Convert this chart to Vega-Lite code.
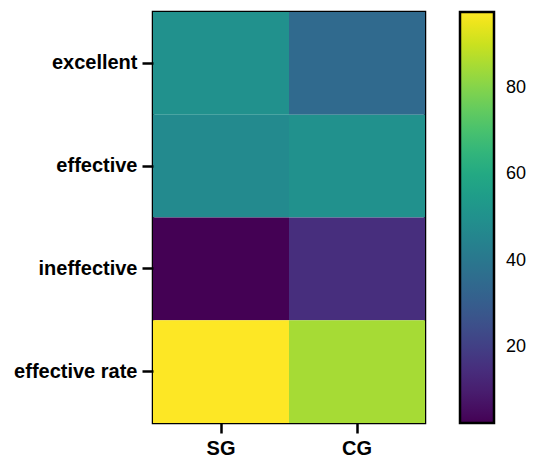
{
  "$schema": "https://vega.github.io/schema/vega-lite/v6.json",
  "autosize": "none",
  "width": 272,
  "height": 411,
  "padding": {"left": 153, "top": 12, "right": 108, "bottom": 35},
  "background": "white",
  "data": {"values": [
    {"group": "SG", "item": "excellent", "value": 50},
    {"group": "SG", "item": "effective", "value": 47.5},
    {"group": "SG", "item": "ineffective", "value": 2.5},
    {"group": "SG", "item": "effective rate", "value": 97.5},
    {"group": "CG", "item": "excellent", "value": 35},
    {"group": "CG", "item": "effective", "value": 50},
    {"group": "CG", "item": "ineffective", "value": 15},
    {"group": "CG", "item": "effective rate", "value": 85}
  ]},
  "mark": {"type": "rect"},
  "encoding": {
    "x": {"field": "group", "type": "nominal", "sort": ["SG", "CG"], "title": null,
      "scale": {"paddingInner": 0, "paddingOuter": 0},
      "axis": {"labelAngle": 0, "labelFont": "Liberation Sans", "labelFontWeight": "bold", "labelFontSize": 20, "labelColor": "black", "tickColor": "black", "tickWidth": 2.5, "tickSize": 10, "labelPadding": 5, "domain": false}},
    "y": {"field": "item", "type": "nominal", "sort": ["excellent", "effective", "ineffective", "effective rate"], "title": null,
      "scale": {"paddingInner": 0, "paddingOuter": 0},
      "axis": {"labelFont": "Liberation Sans", "labelFontWeight": "bold", "labelFontSize": 20, "labelColor": "black", "tickColor": "black", "tickWidth": 2.5, "tickSize": 11, "labelPadding": 5, "domain": false}},
    "color": {"field": "value", "type": "quantitative", "title": null,
      "scale": {"scheme": "viridis", "zero": false},
      "legend": {"values": [20, 40, 60, 80], "gradientLength": 411, "gradientThickness": 34, "offset": 35, "gradientStrokeColor": "black", "gradientStrokeWidth": 2.5, "labelFont": "Liberation Sans", "labelFontSize": 18, "labelColor": "black", "labelOffset": 12}}
  },
  "config": {"view": {"stroke": "black", "strokeWidth": 2.5}}
}
